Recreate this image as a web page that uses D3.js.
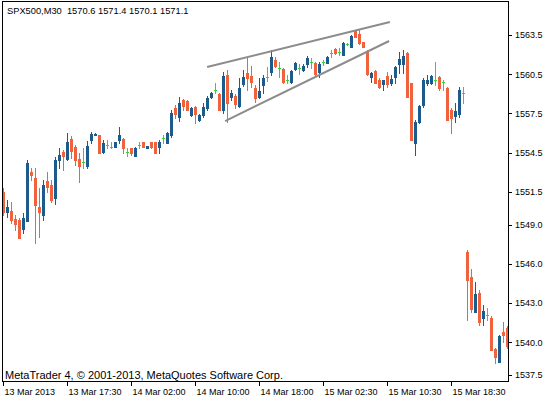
<!DOCTYPE html>
<html>
<head>
<meta charset="utf-8">
<script src="https://cdn.jsdelivr.net/npm/d3@7"></script>
<style>
  body { margin: 0; background: #fff; }
  svg text { font-family: "Liberation Sans", Arial, sans-serif; fill: #000; }
</style>
</head>
<body>
<div id="app"></div>
<script>
// SPX500 M30 candles (bar 0 = leftmost visible bar)

const open = [1551.49,1549.96,1550.04,1549.43,1549.35,1548.66,1549.27,1553.02,1552.56,1550.34,
  1549.73,1552.33,1552.03,1551.03,1553.94,1554.55,1554.02,1555.55,1554.94,1554.02,
  1553.79,1553.48,1555.47,1555.85,1555.85,1554.55,1555.09,1554.94,1554.94,1555.47,
  1555.55,1554.55,1554.86,1554.25,1555.09,1555.32,1554.86,1555.32,1555.32,1554.94,
  1555.62,1555.24,1555.85,1557.92,1557.23,1558.53,1558.45,1557.38,1557.99,1557.00,
  1557.38,1557.92,1558.76,1559.30,1558.99,1557.77,1560.44,1558.76,1558.84,1558.07,
  1559.75,1560.60,1560.37,1559.45,1558.76,1559.68,1560.29,1560.67,1561.59,1560.98,
  1560.90,1560.06,1559.91,1560.90,1560.98,1560.83,1561.28,1561.44,1561.36,1560.67,
  1561.44,1561.36,1562.13,1562.43,1562.20,1561.97,1562.81,1562.58,1563.81,1563.58,
  1562.97,1562.28,1560.29,1560.75,1560.06,1559.75,1560.37,1559.83,1560.29,1561.28,
  1561.28,1562.13,1559.83,1555.24,1556.85,1558.15,1559.83,1559.83,1560.06,1560.29,
  1559.91,1559.45,1557.77,1557.31,1557.46,1559.07,1546.90,1544.99,1542.30,1543.77,
  1541.85,1542.08,1541.85,1539.48,1538.48,1540.78,1541.09];

const high = [1551.80,1550.88,1550.73,1549.73,1549.50,1549.89,1553.94,1553.33,1553.33,1551.80,
  1552.41,1553.02,1552.41,1554.17,1554.86,1554.71,1556.00,1555.78,1555.09,1554.48,
  1554.86,1555.39,1556.08,1556.00,1555.85,1555.47,1555.47,1555.32,1555.32,1556.46,
  1555.62,1554.86,1554.86,1554.94,1555.32,1555.32,1555.01,1555.32,1555.32,1555.47,
  1555.85,1556.08,1557.77,1558.15,1558.76,1558.61,1558.53,1557.99,1558.07,1557.46,
  1558.30,1558.84,1559.14,1559.83,1559.07,1560.67,1560.83,1559.30,1558.99,1560.21,
  1560.83,1561.82,1561.13,1559.68,1560.21,1560.44,1561.05,1562.36,1561.82,1561.44,
  1560.98,1560.44,1560.83,1561.44,1561.28,1561.28,1561.90,1561.74,1561.44,1561.44,
  1561.59,1561.90,1562.36,1562.51,1562.51,1562.97,1562.89,1563.50,1563.89,1563.89,
  1562.97,1562.36,1560.67,1560.83,1560.21,1560.06,1560.67,1560.44,1561.13,1562.20,
  1562.36,1562.20,1559.83,1557.00,1558.15,1560.21,1560.44,1560.44,1561.44,1560.37,
  1560.06,1559.52,1557.92,1558.30,1559.52,1559.52,1547.05,1545.60,1544.61,1544.00,
  1542.85,1542.62,1542.00,1539.56,1540.55,1541.55,1541.24];

const low = [1549.73,1549.58,1549.12,1548.59,1547.97,1548.36,1549.27,1552.41,1547.59,1548.05,
  1549.35,1551.49,1550.73,1550.57,1553.33,1553.18,1553.94,1554.09,1553.56,1552.26,
  1553.33,1553.33,1555.24,1555.85,1554.48,1554.48,1554.86,1554.86,1554.94,1555.24,
  1554.48,1554.25,1554.32,1554.25,1554.86,1554.94,1554.86,1554.86,1554.48,1554.48,
  1555.24,1555.24,1555.70,1557.15,1556.92,1557.77,1557.77,1557.31,1556.77,1556.92,
  1557.23,1557.77,1558.68,1559.07,1557.77,1557.54,1556.85,1558.53,1557.92,1557.99,
  1559.60,1559.30,1559.52,1558.38,1558.68,1559.07,1559.98,1560.44,1561.05,1560.29,
  1559.83,1559.83,1559.83,1560.83,1560.52,1560.75,1561.05,1560.98,1560.44,1560.29,
  1561.21,1561.36,1561.82,1562.05,1561.97,1561.97,1562.74,1562.58,1563.35,1562.81,
  1562.58,1560.44,1559.91,1559.83,1559.45,1559.30,1559.52,1559.68,1559.83,1560.60,
  1560.60,1558.76,1555.47,1554.32,1556.77,1557.99,1559.68,1559.75,1559.68,1559.30,
  1559.30,1557.00,1556.00,1556.85,1557.23,1558.30,1541.70,1542.30,1542.30,1541.32,
  1541.32,1541.70,1539.41,1538.41,1538.48,1540.02,1539.56];

const close = [1549.96,1550.34,1549.35,1549.04,1547.97,1549.50,1553.71,1552.79,1550.50,1549.96,
  1552.03,1551.87,1550.88,1553.94,1554.32,1554.25,1555.32,1554.63,1553.94,1553.48,
  1553.79,1555.01,1555.93,1555.93,1554.48,1555.24,1555.09,1554.94,1555.32,1555.85,
  1554.86,1554.55,1554.48,1554.86,1555.09,1554.94,1555.01,1554.94,1554.48,1555.32,
  1555.62,1556.00,1557.54,1557.46,1558.30,1558.07,1557.77,1557.92,1557.46,1557.38,
  1557.99,1558.68,1559.07,1559.30,1557.77,1560.37,1558.30,1559.07,1558.22,1559.45,
  1560.29,1560.21,1559.91,1558.68,1559.22,1560.21,1560.29,1561.82,1561.13,1560.98,
  1559.91,1560.06,1560.75,1561.36,1560.98,1561.13,1561.74,1561.44,1560.52,1561.28,
  1561.44,1561.82,1562.13,1562.13,1562.20,1562.89,1562.81,1563.43,1563.35,1562.89,
  1562.58,1560.52,1560.60,1559.83,1559.52,1560.06,1559.75,1560.14,1561.05,1561.67,
  1561.90,1558.76,1555.47,1556.85,1558.07,1560.06,1560.06,1560.37,1560.06,1559.45,
  1559.91,1557.00,1557.15,1557.69,1559.30,1559.07,1544.76,1542.54,1543.69,1541.55,
  1542.39,1542.08,1539.41,1538.87,1540.48,1540.55,1539.71];

const priceTicks = [1563.5, 1560.5, 1557.5, 1554.5, 1551.5, 1549.0, 1546.0, 1543.0, 1540.0, 1537.5];
const timeTickBars = [0, 16, 32, 48, 64, 80, 96, 112];
const timeTickLabels = ["13 Mar 2013", "13 Mar 17:30", "14 Mar 02:00", "14 Mar 10:00",
  "14 Mar 18:00", "15 Mar 02:30", "15 Mar 10:30", "15 Mar 18:30"];

// hand drawn channel: [bar, price]
const upperTrend = [[50.9, 1561.05], [96.6, 1564.50]];
const lowerTrend = [[55.4, 1556.92], [96.4, 1563.04]];

const headerText = "SPX500,M30  1570.6 1571.4 1570.1 1571.1";
const footerText = "MetaTrader 4, \u00A9 2001-2013, MetaQuotes Software Corp.";

function drawChart() {
  const dimensions = {
    width: 547,
    height: 397,
    plot: { left: 2.5, top: 1.5, right: 508.5, bottom: 381.5 }
  };
  const colors = { up: "#1d5b8d", down: "#f0623c", flat: "#3ccf3c", trend: "#8c8c8c" };

  const bars = d3.range(open.length).map((i) => ({
    i, o: open[i], h: high[i], l: low[i], c: close[i]
  }));

  const wrapper = d3.select("#app")
    .append("svg")
    .attr("width", dimensions.width)
    .attr("height", dimensions.height);

  // scales
  const xScale = d3.scaleLinear().domain([0, 126]).range([3.5, 507.5]);
  const yScale = d3.scaleLinear().domain([1537.5, 1563.5]).range([375, 35]);

  wrapper.append("clipPath")
    .attr("id", "plotclip")
    .append("rect")
    .attr("x", 3).attr("y", 2)
    .attr("width", 505).attr("height", 379);

  const plot = wrapper.append("g")
    .attr("clip-path", "url(#plotclip)")
    .attr("shape-rendering", "crispEdges");

  const py = (v) => Math.round(yScale(v));

  const candle = plot.selectAll("g.bar")
    .data(bars)
    .join("g")
    .attr("class", "bar");

  const colorOf = (d) => d.c > d.o ? colors.up : d.c < d.o ? colors.down : colors.flat;

  // wicks
  candle.append("rect")
    .attr("x", (d) => xScale(d.i) - 0.5)
    .attr("width", 1)
    .attr("y", (d) => py(d.h))
    .attr("height", (d) => py(d.l) - py(d.h) + 1)
    .attr("fill", colorOf);

  // bodies
  candle.append("rect")
    .attr("x", (d) => xScale(d.i) - 1.5)
    .attr("width", 3)
    .attr("y", (d) => py(Math.max(d.o, d.c)))
    .attr("height", (d) => Math.max(1, py(Math.min(d.o, d.c)) - py(Math.max(d.o, d.c)) + 1))
    .attr("fill", colorOf);

  // channel lines
  const trendLine = d3.line()
    .x((d) => xScale(d[0]))
    .y((d) => yScale(d[1]));

  plot.selectAll("path.trend")
    .data([upperTrend, lowerTrend])
    .join("path")
    .attr("class", "trend")
    .attr("d", trendLine)
    .attr("fill", "none")
    .attr("stroke", colors.trend)
    .attr("stroke-width", 2)
    .attr("shape-rendering", "auto");

  // frame
  wrapper.append("rect")
    .attr("x", dimensions.plot.left)
    .attr("y", dimensions.plot.top)
    .attr("width", dimensions.plot.right - dimensions.plot.left)
    .attr("height", dimensions.plot.bottom - dimensions.plot.top)
    .attr("fill", "none")
    .attr("stroke", "#000")
    .attr("shape-rendering", "crispEdges");

  // price axis on the right
  const yAxis = wrapper.append("g")
    .attr("transform", "translate(508,0)")
    .attr("shape-rendering", "crispEdges")
    .call(d3.axisRight(yScale)
      .tickValues(priceTicks)
      .tickFormat(d3.format(".1f"))
      .tickSize(4)
      .tickPadding(3));
  yAxis.select(".domain").remove();
  yAxis.selectAll("text").attr("font-size", 9).attr("font-family", null).attr("fill", "#000");
  yAxis.selectAll("line").attr("stroke", "#000");

  // time axis
  const xAxis = wrapper.append("g")
    .attr("transform", "translate(0,382)")
    .attr("shape-rendering", "crispEdges")
    .call(d3.axisBottom(xScale)
      .tickValues(timeTickBars)
      .tickFormat((d, k) => timeTickLabels[k])
      .tickSize(4)
      .tickPadding(3)
      .offset(0));
  xAxis.select(".domain").remove();
  xAxis.selectAll("text")
    .attr("text-anchor", "start")
    .attr("x", 1)
    .attr("font-size", 9)
    .attr("font-family", null)
    .attr("fill", "#000");
  xAxis.selectAll("line").attr("stroke", "#000");

  // labels
  wrapper.append("text")
    .attr("x", 7).attr("y", 14)
    .attr("font-size", 9.3)
    .text(headerText)
    .style("white-space", "pre");

  wrapper.append("text")
    .attr("x", 5).attr("y", 379)
    .attr("font-size", 11)
    .text(footerText);
}

drawChart();
</script>
</body>
</html>
